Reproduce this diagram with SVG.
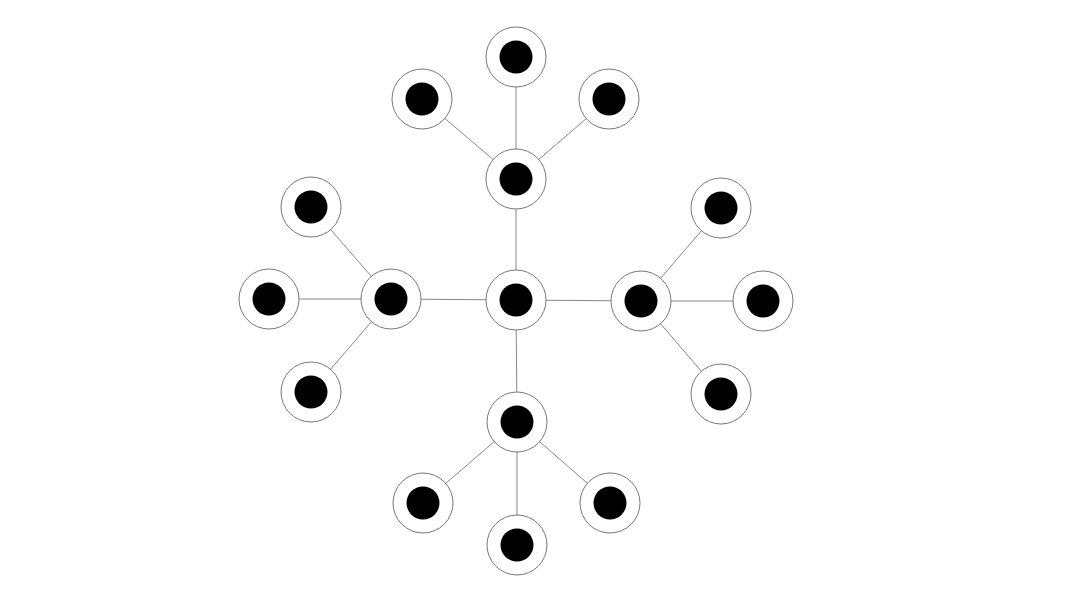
<svg xmlns="http://www.w3.org/2000/svg" width="1075" height="606" viewBox="0 0 1075 606">
<style>
.e{stroke:#888;stroke-width:1;fill:none}
.o{fill:#fff;stroke:#777;stroke-width:1}
.i{fill:#000}
</style>
<defs>
<g id="n"><circle class="o" r="30"/><circle class="i" r="16.5"/></g>
</defs>
<rect width="1075" height="606" fill="#fff"/>
<g id="connectors">
<line class="e" x1="516" y1="300" x2="516" y2="179"/>
<line class="e" x1="516" y1="300" x2="391" y2="299"/>
<line class="e" x1="516" y1="300" x2="641" y2="301"/>
<line class="e" x1="516" y1="300" x2="517" y2="422"/>
<line class="e" x1="516" y1="179" x2="516" y2="57"/>
<line class="e" x1="516" y1="179" x2="422" y2="99"/>
<line class="e" x1="516" y1="179" x2="609" y2="99"/>
<line class="e" x1="391" y1="299" x2="311" y2="207"/>
<line class="e" x1="391" y1="299" x2="269" y2="299"/>
<line class="e" x1="391" y1="299" x2="311" y2="392"/>
<line class="e" x1="641" y1="301" x2="721" y2="208"/>
<line class="e" x1="641" y1="301" x2="763" y2="301"/>
<line class="e" x1="641" y1="301" x2="721" y2="394"/>
<line class="e" x1="517" y1="422" x2="423" y2="503"/>
<line class="e" x1="517" y1="422" x2="517" y2="545"/>
<line class="e" x1="517" y1="422" x2="610" y2="503"/>
</g>
<g id="center"><use href="#n" x="516" y="300"/></g>
<g id="top"><use href="#n" x="516" y="179"/></g>
<g id="top-top"><use href="#n" x="516" y="57"/></g>
<g id="top-left"><use href="#n" x="422" y="99"/></g>
<g id="top-right"><use href="#n" x="609" y="99"/></g>
<g id="left"><use href="#n" x="391" y="299"/></g>
<g id="left-top"><use href="#n" x="311" y="207"/></g>
<g id="left-left"><use href="#n" x="269" y="299"/></g>
<g id="left-bottom"><use href="#n" x="311" y="392"/></g>
<g id="right"><use href="#n" x="641" y="301"/></g>
<g id="right-top"><use href="#n" x="721" y="208"/></g>
<g id="right-right"><use href="#n" x="763" y="301"/></g>
<g id="right-bottom"><use href="#n" x="721" y="394"/></g>
<g id="bottom"><use href="#n" x="517" y="422"/></g>
<g id="bottom-left"><use href="#n" x="423" y="503"/></g>
<g id="bottom-bottom"><use href="#n" x="517" y="545"/></g>
<g id="bottom-right"><use href="#n" x="610" y="503"/></g>
</svg>
